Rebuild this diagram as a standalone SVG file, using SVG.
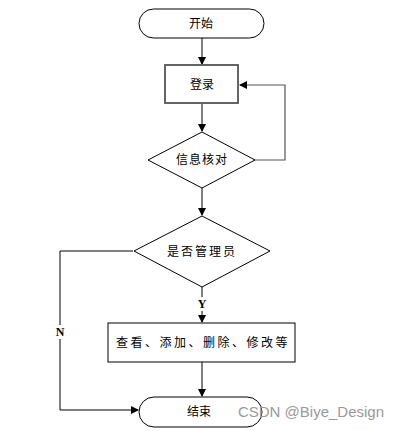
<svg xmlns="http://www.w3.org/2000/svg" width="403" height="431" viewBox="0 0 403 431">
<defs>
<style>
.s{fill:#fff;stroke:#000;stroke-width:1}
.t{font-family:"Noto Sans CJK SC","Noto Sans",sans-serif;font-size:12px;fill:#000;text-anchor:middle}
.l{fill:none;stroke:#000;stroke-width:1}
.g{fill:none;stroke:#555;stroke-width:1.2}
.yn{font-family:"Liberation Serif",serif;font-size:12px;font-weight:bold;fill:#000;text-anchor:middle}
</style>
<marker id="a" markerWidth="8" markerHeight="8" refX="7" refY="4" orient="auto" markerUnits="userSpaceOnUse">
<path d="M0,0 L8,4 L0,8 Z" fill="#000"/>
</marker>
</defs>
<rect width="403" height="431" fill="#fff"/>
<g id="connectors">
<path class="l" d="M202,38 V64" marker-end="url(#a)"/>
<path class="l" d="M202,104 V131" marker-end="url(#a)"/>
<path class="g" d="M255,160 H285 V85 H240" marker-end="url(#a)"/>
<path class="l" d="M202,188 V215" marker-end="url(#a)"/>
<path class="l" d="M202,287 V322" marker-end="url(#a)"/>
<path class="l" d="M133,251 H60 V410 H138" marker-end="url(#a)"/>
<path class="l" d="M202,362 V396" marker-end="url(#a)"/>
<rect x="194" y="297" width="16" height="14" fill="#fff"/>
<text class="yn" x="202" y="308">Y</text>
<rect x="53" y="325" width="14" height="14" fill="#fff"/>
<text class="yn" x="60" y="336">N</text>
</g>
<g id="start">
<rect class="s" x="139" y="9" width="125" height="29" rx="14.5"/>
<text class="t" x="201" y="28">开始</text>
</g>
<g id="login">
<rect x="165" y="65" width="73" height="38" fill="#fff" stroke="#555" stroke-width="1.8"/>
<text class="t" x="202" y="89">登录</text>
</g>
<g id="check">
<polygon class="s" points="202,132 255,160 202,188 148,160"/>
<text class="t" x="202" y="164" letter-spacing="1">信息核对</text>
</g>
<g id="admin">
<polygon class="s" points="202,216 270,251 202,287 134,251"/>
<text class="t" x="202" y="256" letter-spacing="2">是否管理员</text>
</g>
<g id="ops">
<rect class="s" x="108" y="323" width="187" height="39"/>
<text class="t" x="203" y="347" letter-spacing="2.5">查看、添加、删除、修改等</text>
</g>
<g id="end">
<rect class="s" x="139" y="397" width="123" height="30" rx="15"/>
<text class="t" x="199" y="416">结束</text>
</g>
<text x="311" y="417" font-family="Liberation Sans,sans-serif" font-size="15" fill="#999" text-anchor="middle">CSDN @Biye_Design</text>
</svg>
